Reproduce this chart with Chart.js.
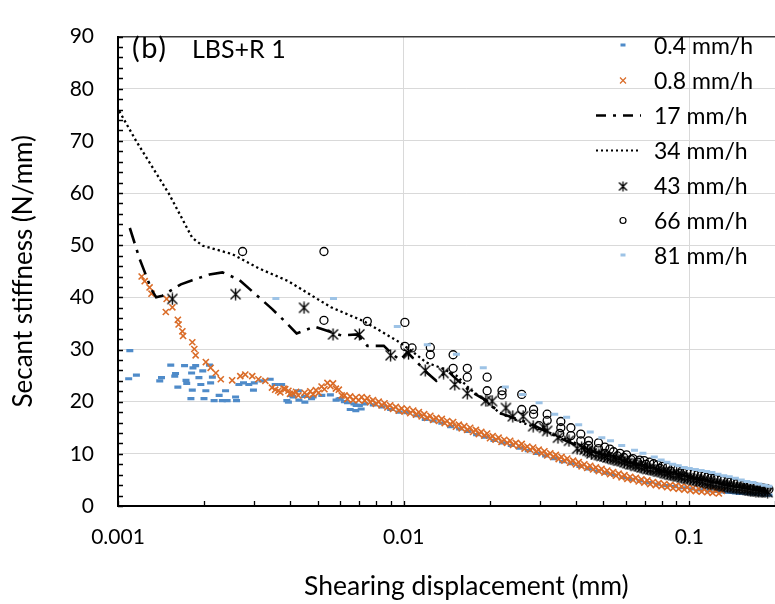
<!DOCTYPE html>
<html><head><meta charset="utf-8">
<script src="https://cdn.jsdelivr.net/npm/chart.js@4/dist/chart.umd.min.js"></script>
<style>html,body{margin:0;padding:0;overflow:hidden;background:#fff;width:775px;height:604px}canvas{display:block}</style>
</head><body><canvas id="c" width="822" height="604"></canvas>
<script>
// ---------- data ----------
const seriesNames = ['0.4 mm/h','0.8 mm/h','17 mm/h','34 mm/h','43 mm/h','66 mm/h','81 mm/h'];
const xTickValues = [0.001, 0.01, 0.1];
const xTickLabels = ['0.001', '0.01', '0.1'];
const yTickValues = [0, 10, 20, 30, 40, 50, 60, 70, 80, 90];
const xAxisTitle = 'Shearing displacement (mm)';
const yAxisTitle = 'Secant stiffness (N/mm)';
const panelLabel = '(b)';
const panelName = 'LBS+R 1';

// 0.4 mm/h  [displacement, stiffness]
const s04 = [
[0.00109,24.4],[0.0011,29.8],[0.00116,25.1],[0.0014,24.0],[0.00142,24.6],[0.00153,27.0],[0.00158,24.9],[0.00159,25.4],[0.00162,22.8],[0.00171,26.9],
[0.00173,24.1],[0.00174,23.5],[0.0018,20.6],[0.00182,22.2],[0.00181,25.5],[0.00183,26.5],[0.00187,26.9],[0.00192,24.6],[0.00195,23.3],[0.00198,25.9],
[0.002,20.6],[0.00203,22.1],[0.00209,27.0],[0.00211,23.6],[0.00214,24.7],[0.00217,20.2],[0.00226,21.2],[0.00232,20.2],[0.00238,22.1],[0.00241,20.2],
[0.00258,20.9],[0.0026,20.2],[0.00265,23.3],[0.00275,23.6],[0.00287,23.3],[0.00298,22.2],[0.003,23.6],[0.00319,24.0],[0.00341,24.3],[0.00355,23.3],
[0.00374,23.3],[0.0039,20.2],[0.00395,19.9],[0.00405,21.2],[0.0041,20.9],[0.00428,22.1],[0.0043,20.3],[0.0045,21.0],[0.00451,19.9],[0.00476,20.6],
[0.00482,20.9],[0.00517,21.2],[0.00554,21.3],[0.0058,20.3],[0.00594,20.5],[0.006,20.6],[0.0062,20.0],[0.00636,19.8],[0.0065,18.5],[0.0067,19.6],
[0.0068,18.3],[0.00682,19.3],[0.007,19.3],[0.0071,18.6],[0.00731,19.6],[0.00783,19.4],[0.0084,19.0],[0.009,18.5],[0.00965,18.0],[0.0103,17.9],
[0.0111,17.3],[0.0119,16.6],[0.0127,16.3],[0.0136,15.9],[0.0146,15.2],[0.0157,14.8],[0.0168,14.3],[0.018,13.7],[0.0193,13.2],[0.0207,12.6],
[0.0222,12.1],[0.0238,11.6],[0.0255,11.1],[0.0273,10.6],[0.0293,10.1],[0.0314,9.6],[0.0336,9.1],[0.036,8.5],[0.0386,8.1],[0.0414,7.6],
[0.0444,7.1],[0.0476,6.7],[0.051,6.3],[0.0547,5.9],[0.0586,5.5],[0.0628,5.1],[0.0673,4.8],[0.0721,4.5],[0.0773,4.2],[0.0829,3.9],
[0.0889,3.7],[0.0953,3.5],[0.102,3.3],[0.109,3.1],[0.117,2.9],[0.126,2.8],[0.13,2.7],[0.135,2.6],[0.14,2.6],[0.145,2.5],[0.15,2.4],[0.155,2.4],
[0.16,2.35],[0.166,2.3],[0.172,2.25],[0.178,2.2],[0.184,2.15],[0.19,2.1]
];

// 0.8 mm/h
const s08 = [
[0.00121,44.0],[0.00124,43.1],[0.00129,41.9],[0.00131,40.7],[0.00147,37.2],[0.00148,39.7],[0.00155,38.1],[0.00162,35.7],[0.00163,34.8],[0.00168,33.5],
[0.00169,32.6],[0.00182,31.4],[0.00185,30.1],[0.00187,28.9],[0.00203,27.6],[0.00211,26.5],[0.0022,25.5],[0.00229,24.3],[0.00251,24.1],[0.00268,24.9],
[0.00279,25.2],[0.00295,24.9],[0.0031,24.3],[0.00328,24.0],[0.00346,22.7],[0.00355,22.3],[0.00364,22.1],[0.0037,21.8],[0.0038,22.5],[0.00385,22.4],
[0.00395,22.1],[0.004,21.5],[0.0041,21.6],[0.0042,21.9],[0.00428,21.2],
[0.0045,21.7],[0.0046,21.2],[0.00471,22.0],[0.00482,21.4],[0.00493,22.2],[0.00504,21.7],[0.00516,22.9],[0.00528,22.4],[0.00541,23.6],[0.00554,23.0],
[0.00566,23.5],[0.00579,22.5],[0.00593,22.3],[0.00607,21.2],[0.00621,21.2],[0.00635,20.5],[0.0065,21.0],[0.00665,20.3],[0.0068,20.8],[0.00696,20.3],
[0.00713,20.9],[0.0073,20.2],[0.00746,20.7],[0.00763,19.9],[0.00781,20.3],[0.00799,19.6],[0.00818,20.0],[0.00837,19.3],[0.00857,19.7],[0.00877,18.9],
[0.00897,19.3],[0.00918,18.6],[0.00939,19.0],[0.00961,18.3],[0.00984,18.7],[0.01007,18.1],[0.0103,18.6],[0.01054,17.8],[0.0108,18.3],[0.01105,17.5],
[0.0113,18.0],[0.01156,17.2],[0.0118,17.6],[0.01207,16.9],[0.0124,17.3],[0.01269,16.5],[0.013,16.9],[0.0133,16.3],[0.0136,16.7],[0.01392,15.9],
[0.0142,16.3],[0.01453,15.7],[0.0149,16.1],[0.01525,15.2],[0.0156,15.6],[0.01596,14.9],[0.0163,15.3],[0.01668,14.6],[0.0171,15.0],[0.0175,14.2],
[0.0179,14.6],[0.01832,13.8],[0.0187,14.2],[0.01914,13.5],[0.0196,13.9],[0.02006,13.0],[0.0205,13.4],[0.02098,12.7],[0.0215,13.1],[0.022,12.3],
[0.0225,12.7],[0.02302,12.1],[0.0236,12.5],[0.02415,11.7],[0.0247,12.1],[0.02528,11.5],[0.0259,11.9],[0.0265,11.0],[0.0271,11.4],[0.02773,10.8],
[0.0284,11.2],[0.02906,10.4],[0.0297,10.8],[0.03039,10.1],[0.0311,10.5],[0.03182,9.7],[0.0326,10.1],[0.03336,9.4],[0.0341,9.8],[0.03489,9.0],
[0.0357,9.4],[0.03653,8.7],[0.0374,9.1],[0.03827,8.3],[0.0392,8.7],[0.04011,8.0],[0.041,8.4],[0.04195,7.6],[0.0429,8.0],[0.0439,7.3],
[0.045,7.7],[0.04605,7.0],[0.0471,7.4],[0.0482,6.7],[0.0493,7.1],[0.05045,6.4],[0.0516,6.8],[0.0528,6.1],[0.0541,6.5],[0.05536,5.8],
[0.0566,6.2],[0.05792,5.5],[0.0593,5.9],[0.06068,5.2],[0.0621,5.6],[0.06355,5.0],[0.065,5.4],[0.06651,4.7],[0.068,5.1],[0.06958,4.5],
[0.0713,4.9],[0.07296,4.2],[0.0746,4.6],[0.07634,4.0],[0.0781,4.4],[0.07992,3.8],[0.0818,4.2],[0.0837,3.6],[0.0857,4.0],[0.0877,3.4],
[0.0897,3.9],[0.09179,3.3],[0.0939,3.75],[0.09609,3.15],[0.0984,3.6],[0.1007,3.0],[0.103,3.45],[0.1054,2.85],[0.108,3.3],[0.1105,2.75],
[0.113,3.2],[0.1156,2.65],[0.118,3.1],[0.1207,2.5],[0.124,2.95],[0.1269,2.4],[0.13,2.9]
];

// 17 mm/h (dash-dot line)
const s17 = [
[0.0011,53.3],[0.00119,47.4],[0.00131,41.5],[0.00136,40.0],[0.00143,40.3],[0.00155,41.5],[0.00166,42.5],[0.00182,43.3],[0.00209,44.4],[0.00232,44.8],
[0.00265,43.4],[0.00303,40.6],[0.00346,37.8],[0.00384,35.4],[0.00422,33.1],[0.00488,34.4],[0.00605,32.7],[0.0069,32.9],[0.00746,30.7],[0.00852,30.7],
[0.00923,28.9],[0.00974,28.0],[0.0103,29.5],[0.0121,25.5],[0.013,24.0],[0.0142,26.0],[0.0149,24.9],[0.017,22.1],[0.0195,20.2],[0.0217,17.8],
[0.0234,17.2],[0.0275,15.9],[0.0305,14.7],[0.036,12.8],[0.042,11.2],[0.05,9.8],[0.06,8.5],[0.072,7.3],[0.085,6.3],[0.1,5.4],
[0.12,4.5],[0.145,3.7],[0.19,2.8]
];

// 34 mm/h (dotted line)
const s34 = [
[0.00101,75.7],[0.00116,69.9],[0.00151,59.8],[0.00182,51.4],[0.00198,49.9],[0.00251,48.3],[0.0031,45.6],[0.00395,43.1],[0.00488,40.0],[0.00557,38.1],
[0.00727,35.4],[0.0096,31.5],[0.0108,29.5],[0.012,27.5],[0.0135,26.5],[0.0153,25.0],[0.017,22.5],[0.0195,20.0],[0.0217,17.8],[0.026,16.0],
[0.031,14.5],[0.037,12.8],[0.045,10.9],[0.055,9.4],[0.068,7.8],[0.085,6.5],[0.1,5.7],[0.12,4.8],[0.15,3.9],[0.19,3.2]
];

// 43 mm/h (asterisks)
const s43 = [
[0.00155,39.7],[0.00258,40.6],[0.00448,38.0],[0.00566,32.9],[0.007,32.9],[0.009,28.9],[0.0104,29.2],[0.0119,26.0],[0.0138,25.5],[0.0151,23.3],
[0.0167,21.6],[0.0194,20.2],[0.0204,20.1],[0.0228,18.8],[0.0241,17.2],[0.0262,17.2],[0.0284,15.3],[0.031,15.0],[0.0318,14.4],[0.0347,13.1],
[0.0379,12.5],[0.0405,11.0],[0.042,11.2],[0.043,10.8],[0.044,10.6],[0.0449,10.4],[0.0455,10.1],[0.0471,9.9],[0.0482,9.8],[0.0493,9.6],
[0.0505,9.5],[0.0517,9.3],[0.0529,9.2],[0.0541,9.0],[0.0554,8.9],[0.0567,8.7],[0.058,8.6],[0.0593,8.4],[0.0607,8.2],[0.0621,8.0],
[0.0636,8.0],[0.065,7.7],[0.0666,7.6],[0.0681,7.4],[0.0697,7.3],[0.0713,7.1],[0.073,7.0],[0.0747,6.9],[0.0765,6.8],[0.0783,6.6],
[0.0801,6.5],[0.082,6.3],[0.0838,6.2],[0.0858,6.0],[0.0878,5.9],[0.0898,5.8],[0.0919,5.7],[0.094,5.5],[0.0963,5.4],[0.0986,5.3],
[0.101,5.2],[0.1035,5.0],[0.106,4.9],[0.1085,4.8],[0.111,4.7],[0.1135,4.5],[0.116,4.4],[0.1185,4.3],[0.121,4.2],[0.124,4.1],
[0.127,4.0],[0.13,3.9],[0.133,3.8],[0.136,3.7],[0.139,3.6],[0.1425,3.5],[0.146,3.4],[0.1495,3.35],[0.153,3.3],[0.1565,3.2],
[0.16,3.1],[0.1635,3.0],[0.167,2.9],[0.171,2.85],[0.175,2.8],[0.1795,2.75],[0.184,2.7],[0.188,2.65]
];

// 66 mm/h (open circles)
const s66 = [
[0.00273,48.8],[0.00526,48.8],[0.00526,35.6],[0.00746,35.4],[0.0101,35.2],[0.0101,30.6],[0.0107,30.3],[0.0124,30.4],[0.0124,29.0],[0.0149,29.0],
[0.0149,26.4],[0.0167,26.4],[0.0167,24.7],[0.0196,24.7],[0.0196,22.1],[0.0221,22.1],[0.0221,21.3],[0.0259,21.4],[0.0259,18.5],[0.0285,18.5],
[0.0285,17.6],[0.0298,15.4],[0.0318,17.6],[0.0318,16.4],[0.0352,13.9],[0.0355,16.2],[0.0355,15.0],[0.0385,15.0],[0.0385,13.5],[0.0417,13.8],
[0.0417,12.5],[0.0444,12.5],[0.0444,11.6],[0.0481,12.1],[0.0481,11.0],[0.0506,11.3],[0.0506,10.1],[0.0527,10.9],[0.0543,10.4],[0.056,9.6],
[0.0572,10.1],[0.059,9.3],[0.0603,9.8],[0.0625,8.9],[0.0635,9.1],[0.066,8.4],[0.067,8.8],[0.0695,8.7],[0.0705,8.0],[0.0726,8.4],
[0.075,8.1],[0.0775,7.9],[0.079,7.2],[0.0805,7.6],[0.084,7.4],[0.086,6.7],[0.0875,7.2],[0.091,7.0],[0.093,6.3],[0.0945,6.8],
[0.098,6.5],[0.101,6.4],[0.104,6.2],[0.107,6.0],[0.11,5.9],[0.113,5.8],[0.116,5.6],[0.119,5.4],[0.122,5.3],[0.125,5.2],
[0.129,5.0],[0.132,4.9],[0.136,4.7],[0.139,4.6],[0.143,4.5],[0.147,4.3],[0.151,4.2],[0.155,4.1],[0.159,4.0],[0.163,3.9],
[0.168,3.7],[0.172,3.6],[0.177,3.5],[0.182,3.4],[0.187,3.3],[0.19,3.2]
];

// 81 mm/h (light blue dashes)
const s81 = [
[0.00357,39.8],[0.00568,39.8],[0.0095,34.4],[0.0121,30.9],[0.0153,29.1],[0.019,26.5],[0.0227,22.8],[0.0261,21.4],[0.0298,19.8],[0.0338,17.6],
[0.0372,17.0],[0.041,15.6],[0.045,14.2],[0.0494,13.1],[0.053,12.5],[0.058,11.6],[0.0643,10.7],[0.0688,10.1],[0.0754,9.4],[0.0797,8.8],
[0.0835,8.4],[0.0875,8.0],[0.0915,7.7],[0.096,7.4],[0.1,7.2],[0.105,7.0],[0.11,6.8],[0.115,6.6],[0.12,6.4],[0.126,6.1],
[0.132,5.8],[0.138,5.6],[0.145,5.3],[0.152,5.0],[0.159,4.7],[0.167,4.5],[0.175,4.2],[0.183,4.0],[0.19,3.8]
];

// ---------- styles ----------
const C04 = '#4F8BC9', C08 = '#DA6C28', C81 = '#9DC3E6', CK = '#000000';
const FONT = 'Lato, "Open Sans", sans-serif';

function asterisk(size, lw) {
  const c = document.createElement('canvas');
  c.width = size; c.height = size;
  const g = c.getContext('2d');
  g.strokeStyle = '#000'; g.lineWidth = lw; g.lineCap = 'butt';
  const m = 1.5, e = size - 1.5, h = size / 2;
  g.beginPath();
  g.moveTo(m, m); g.lineTo(e, e);
  g.moveTo(e, m); g.lineTo(m, e);
  g.moveTo(h, 0.5); g.lineTo(h, size - 0.5);
  g.stroke();
  return c;
}
const astPlot = asterisk(13, 1.35);
const astLeg = asterisk(11, 1.3);

const toXY = arr => arr.map(p => ({x: p[0], y: p[1]}));

const datasets = [
  {label: seriesNames[0], data: toXY(s04), showLine: false, pointStyle: 'line', pointRadius: 3.5, pointBorderWidth: 3.2, borderColor: C04, backgroundColor: C04, order: 7},
  {label: seriesNames[1], data: toXY(s08), showLine: false, pointStyle: 'crossRot', pointRadius: 4.3, pointBorderWidth: 1.6, borderColor: C08, backgroundColor: C08, order: 6},
  {label: seriesNames[2], data: toXY(s17), showLine: true, pointRadius: 0, borderColor: CK, borderWidth: 2.6, borderDash: [16, 7, 3, 7], tension: 0, order: 5},
  {label: seriesNames[3], data: toXY(s34), showLine: true, pointRadius: 0, borderColor: CK, borderWidth: 2.3, borderDash: [2.3, 3], tension: 0, order: 4},
  {label: seriesNames[4], data: toXY(s43), showLine: false, pointStyle: astPlot, pointRadius: 6, borderColor: CK, backgroundColor: CK, order: 3},
  {label: seriesNames[5], data: toXY(s66), showLine: false, pointStyle: 'circle', pointRadius: 4, pointBorderWidth: 1.3, borderColor: CK, backgroundColor: 'rgba(0,0,0,0)', order: 2},
  {label: seriesNames[6], data: toXY(s81), showLine: false, pointStyle: 'line', pointRadius: 3.5, pointBorderWidth: 3, borderColor: C81, backgroundColor: C81, order: 1}
];

// ---------- decorations: inside tick marks, panel label, legend ----------
const decor = {
  id: 'decor',
  afterDraw(chart) {
    const ctx = chart.ctx, xs = chart.scales.x, ys = chart.scales.y, a = chart.chartArea;
    ctx.save();
    ctx.strokeStyle = '#000'; ctx.lineWidth = 1.3;
    ctx.beginPath();
    for (let v = 0; v <= 90; v += 2) {
      const py = Math.round(ys.getPixelForValue(v)) + 0.5;
      ctx.moveTo(a.left, py); ctx.lineTo(a.left + 5, py);
    }
    for (const d of xTickValues) {
      for (let m = 1; m <= 9; m++) {
        const v = d * m;
        if (v > xs.max) continue;
        const px = Math.round(xs.getPixelForValue(v)) + 0.5;
        ctx.moveTo(px, a.bottom); ctx.lineTo(px, a.bottom - 5);
      }
    }
    ctx.stroke();

    // panel label
    ctx.fillStyle = '#000';
    ctx.textBaseline = 'alphabetic';
    ctx.textAlign = 'left';
    ctx.font = '29px ' + FONT;
    try { ctx.letterSpacing = '1.5px'; } catch (e) {}
    ctx.fillText(panelLabel, 132, 58);
    try { ctx.letterSpacing = '0px'; } catch (e) {}
    ctx.font = '25px ' + FONT;
    ctx.fillText(panelName, 192, 58);

    // legend
    const mx = 623, tx = 654, y0 = 45.5, dy = 35;
    ctx.font = '23px ' + FONT;
    for (let i = 0; i < seriesNames.length; i++) {
      const cy = y0 + dy * i;
      ctx.fillStyle = '#000';
      ctx.fillText(seriesNames[i], tx, cy + 8);
      ctx.save();
      switch (i) {
        case 0: ctx.fillStyle = C04; ctx.fillRect(mx - 2.5, cy - 2, 5, 3); break;
        case 1: ctx.strokeStyle = C08; ctx.lineWidth = 1.2; ctx.beginPath();
          ctx.moveTo(mx - 3, cy - 3); ctx.lineTo(mx + 3, cy + 3); ctx.moveTo(mx + 3, cy - 3); ctx.lineTo(mx - 3, cy + 3); ctx.stroke(); break;
        case 2: ctx.strokeStyle = '#000'; ctx.lineWidth = 2.5; ctx.setLineDash([10, 7, 3, 7]); ctx.beginPath();
          ctx.moveTo(596, cy); ctx.lineTo(641, cy); ctx.stroke(); break;
        case 3: ctx.strokeStyle = '#000'; ctx.lineWidth = 2; ctx.setLineDash([2, 3]); ctx.beginPath();
          ctx.moveTo(596, cy); ctx.lineTo(641, cy); ctx.stroke(); break;
        case 4: ctx.drawImage(astLeg, mx - 5.5, cy - 5.5 + 1); break;
        case 5: ctx.strokeStyle = '#000'; ctx.lineWidth = 1.2; ctx.beginPath(); ctx.arc(mx, cy, 3, 0, Math.PI * 2); ctx.stroke(); break;
        case 6: ctx.fillStyle = C81; ctx.fillRect(mx - 2.5, cy - 2, 5, 3); break;
      }
      ctx.restore();
    }
    ctx.restore();
  }
};

function draw() {
  Chart.defaults.font.family = FONT;
  Chart.defaults.color = '#000';
  new Chart(document.getElementById('c'), {
    type: 'scatter',
    data: {datasets},
    options: {
      responsive: false, animation: false, devicePixelRatio: 1,
      layout: {padding: {top: 21, right: 0, bottom: 0, left: 0}},
      plugins: {legend: {display: false}, tooltip: {enabled: false}},
      scales: {
        x: {
          type: 'logarithmic', min: 0.001, max: 0.275,
          afterBuildTicks: s => { s.ticks = xTickValues.map(v => ({value: v})); },
          afterFit: s => { s.height = 98; },
          ticks: {callback: (v) => { const i = xTickValues.indexOf(v); return i >= 0 ? xTickLabels[i] : ''; },
                  font: {size: 21}, color: '#000', padding: 19, maxRotation: 0, autoSkip: false},
          grid: {color: '#d9d9d9', lineWidth: 1, drawTicks: false},
          border: {color: '#000', width: 2},
          title: {display: true, text: xAxisTitle, font: {size: 26.5}, color: '#000', padding: {top: 0, bottom: 2}}
        },
        y: {
          type: 'linear', min: 0, max: 90,
          afterBuildTicks: s => { s.ticks = yTickValues.map(v => ({value: v})); },
          afterFit: s => { s.width = 118; },
          ticks: {font: {size: 21}, color: '#000', padding: 24},
          grid: {color: c => (c.tick && c.tick.value === 90) ? '#3a3a3a' : '#d9d9d9',
                 lineWidth: c => (c.tick && c.tick.value === 90) ? 1.6 : 1, drawTicks: false},
          border: {color: '#000', width: 2},
          title: {display: true, text: yAxisTitle, font: {size: 26}, color: '#000', padding: {top: 8, bottom: 0}}
        }
      }
    },
    plugins: [decor]
  });
}
if (document.fonts && document.fonts.load) {
  document.fonts.load('20px Lato').then(draw, draw);
} else { draw(); }
</script>
</body></html>
